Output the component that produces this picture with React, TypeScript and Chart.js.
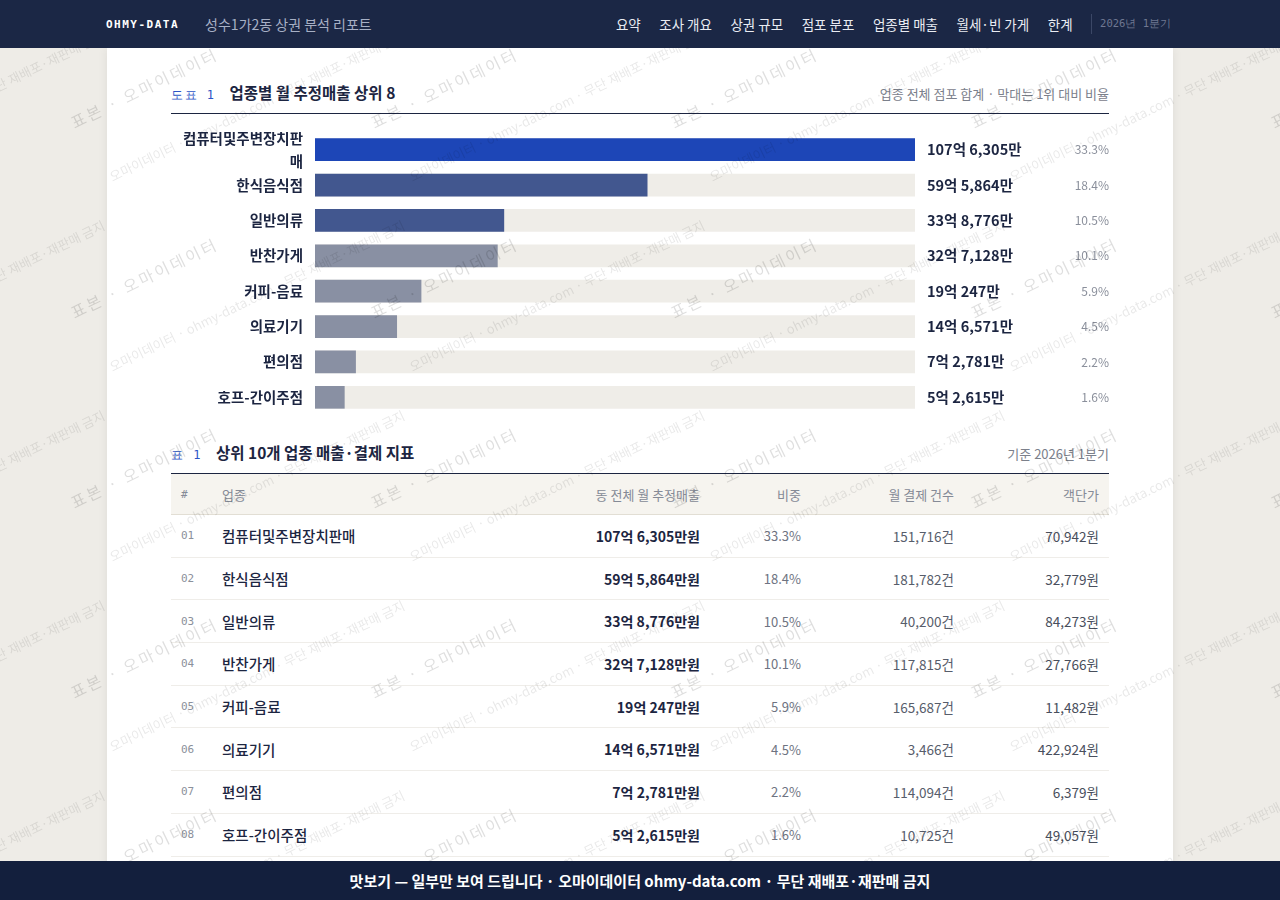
import { useEffect, useRef } from "react"
import { Chart, registerables } from "chart.js"

Chart.register(...registerables)

// 업종별 월 추정매출 (단위: 만원)
const categories = ["컴퓨터및주변장치판매", "한식음식점", "일반의류", "반찬가게", "커피-음료", "의료기기", "편의점", "호프-간이주점"]
const salesManwon = [1076305, 595864, 338776, 327128, 190247, 146571, 72781, 52615]
const sharePct = [33.3, 18.4, 10.5, 10.1, 5.9, 4.5, 2.2, 1.6]
const monthlyTx = [151716, 181782, 40200, 117815, 165687, 3466, 114094, 10725]
const avgTicket = [70942, 32779, 84273, 27766, 11482, 422924, 6379, 49057]

const navItems = ["요약", "조사 개요", "상권 규모", "점포 분포", "업종별 매출", "월세·빈 가게", "한계"]

const FONT = '"Noto Sans CJK KR", "Noto Sans", sans-serif'
const MONO = '"DejaVu Sans Mono", "Liberation Mono", monospace'
const INK = "#1c2541"

function formatEok(v: number) {
  const eok = Math.floor(v / 10000)
  const man = v % 10000
  return `${eok}억 ${man.toLocaleString("en-US")}만`
}

function barColor(i: number) {
  if (i === 0) return "#1d46b7"
  if (i < 3) return "#42578f"
  return "#8990a3"
}

function SalesChart() {
  const chartRef = useRef<HTMLCanvasElement | null>(null)
  const chartInstance = useRef<Chart | null>(null)

  useEffect(() => {
    if (!chartRef.current) return
    if (chartInstance.current) chartInstance.current.destroy()

    const maxSales = Math.max(...salesManwon)

    // value + share labels to the right of the track
    const valueLabels = {
      id: "valueLabels",
      afterDatasetsDraw(chart: any) {
        const { ctx, chartArea } = chart
        const meta = chart.getDatasetMeta(0)
        ctx.save()
        ctx.textBaseline = "middle"
        meta.data.forEach((bar: any, i: number) => {
          ctx.fillStyle = INK
          ctx.textAlign = "left"
          ctx.font = `700 14.5px ${FONT}`
          ctx.fillText(formatEok(salesManwon[i]), chartArea.right + 12, bar.y)
          ctx.fillStyle = "#8a8f9b"
          ctx.textAlign = "right"
          ctx.font = `12px ${FONT}`
          ctx.fillText(`${sharePct[i].toFixed(1)}%`, chart.width, bar.y)
        })
        ctx.restore()
      },
    }

    chartInstance.current = new Chart(chartRef.current, {
      type: "bar",
      data: {
        labels: categories,
        datasets: [
          {
            data: salesManwon,
            backgroundColor: categories.map((_, i) => barColor(i)),
            barThickness: 22,
            grouped: false,
            order: 1,
          },
          {
            data: categories.map(() => maxSales),
            backgroundColor: "#efede8",
            barThickness: 22,
            grouped: false,
            order: 2,
          },
        ],
      },
      options: {
        indexAxis: "y",
        animation: false,
        responsive: true,
        maintainAspectRatio: false,
        layout: { padding: { left: 0, right: 194, top: 0, bottom: 0 } },
        plugins: {
          legend: { display: false },
          tooltip: { enabled: false },
        },
        scales: {
          x: { display: false, min: 0, max: maxSales },
          y: {
            grid: { display: false, drawTicks: false },
            border: { display: false },
            afterFit: (scale: any) => {
              scale.width = 144
              scale.paddingTop = 0
              scale.paddingBottom = 0
            },
            ticks: {
              autoSkip: false,
              padding: 12,
              color: INK,
              font: { family: FONT, size: 14.5, weight: 600, lineHeight: 1.6 },
              callback: (_v: any, i: number) => {
                const name = categories[i]
                return name.length > 9 ? [name.slice(0, 9), name.slice(9)] : name
              },
            },
          },
        },
      },
      plugins: [valueLabels],
    } as any)

    return () => {
      if (chartInstance.current) {
        chartInstance.current.destroy()
        chartInstance.current = null
      }
    }
  }, [])

  return (
    <div style={{ position: "relative", height: 283, marginTop: 18 }}>
      <canvas ref={chartRef} />
    </div>
  )
}

function SectionHead({ tag, title, note, gap }: { tag: string; title: string; note: string; gap: number }) {
  return (
    <div
      style={{
        display: "flex",
        alignItems: "baseline",
        height: 20,
        lineHeight: "20px",
        paddingBottom: 11,
        borderBottom: `1px solid ${INK}`,
      }}
    >
      <span style={{ fontFamily: MONO, fontSize: 12, color: "#2b54c6", letterSpacing: 1.5, marginRight: gap }}>{tag}</span>
      <span style={{ fontSize: 15.5, fontWeight: 700, color: INK }}>{title}</span>
      <span style={{ marginLeft: "auto", fontSize: 13, color: "#7b808b" }}>{note}</span>
    </div>
  )
}

function Watermarks() {
  const marks: any[] = []
  for (let j = -1; j < 6; j++) {
    for (let i = -1; i < 5; i++) {
      const x = 75 + 300 * i
      const y = 130 + 190 * j
      marks.push(
        <span
          key={`a${i}_${j}`}
          style={{
            position: "absolute",
            left: x,
            top: y - 16,
            fontSize: 16,
            letterSpacing: 2.5,
            color: "rgba(0,0,0,0.13)",
            transform: "rotate(-26deg)",
            transformOrigin: "0 100%",
            whiteSpace: "nowrap",
            lineHeight: 1,
          }}
        >
          표본 · 오마이데이터
        </span>
      )
      marks.push(
        <span
          key={`b${i}_${j}`}
          style={{
            position: "absolute",
            left: x + 38,
            top: y + 53 - 13,
            fontSize: 13,
            color: "rgba(0,0,0,0.09)",
            transform: "rotate(-26deg)",
            transformOrigin: "0 100%",
            whiteSpace: "nowrap",
            lineHeight: 1,
          }}
        >
          오마이데이터 · ohmy-data.com · 무단 재배포·재판매 금지
        </span>
      )
    }
  }
  return (
    <div style={{ position: "fixed", inset: 0, overflow: "hidden", pointerEvents: "none", zIndex: 5, fontFamily: FONT }}>
      {marks}
    </div>
  )
}

const th = (align: "left" | "right"): any => ({
  textAlign: align,
  fontWeight: 400,
  fontSize: 13,
  color: "#858a96",
  padding: "0 10px",
  height: 40,
})

export default function App() {
  return (
    <div style={{ fontFamily: FONT, color: INK }}>
      <style>{`body{margin:0;background:#eeece7;}`}</style>

      <div style={{ position: "fixed", top: 0, left: 0, right: 0, height: 48, background: "#1b2745", zIndex: 10 }}>
        <div style={{ width: 1066, margin: "0 auto", height: 48, display: "flex", alignItems: "center" }}>
          <span style={{ fontFamily: MONO, fontWeight: 700, fontSize: 11, letterSpacing: 1.5, color: "#fff", marginLeft: -1 }}>OHMY-DATA</span>
          <span style={{ fontSize: 14, color: "#a7b0c5", marginLeft: 26 }}>성수1가2동 상권 분석 리포트</span>
          <div style={{ marginLeft: "auto", display: "flex", alignItems: "center" }}>
            {navItems.map((n) => (
              <span key={n} style={{ fontSize: 13.5, color: "#e9ecf3", marginRight: 18.5, whiteSpace: "nowrap" }}>
                {n}
              </span>
            ))}
            <span style={{ width: 1, height: 20, background: "#3b4766", marginRight: 8 }} />
            <span style={{ fontFamily: MONO, fontSize: 10.5, color: "#6f7892", whiteSpace: "nowrap", marginRight: 2 }}>2026년 1분기</span>
          </div>
        </div>
      </div>

      <div style={{ paddingTop: 48 }}>
        <div
          style={{
            width: 1066,
            margin: "0 auto",
            background: "#fff",
            boxShadow: "0 0 10px rgba(0,0,0,0.07)",
            boxSizing: "border-box",
            padding: "34px 64px 60px",
            minHeight: 900,
          }}
        >
          <SectionHead tag="도표 1" title="업종별 월 추정매출 상위 8" note="업종 전체 점포 합계 · 막대는 1위 대비 비율" gap={14} />
          <SalesChart />

          <div style={{ marginTop: 27 }}>
            <SectionHead tag="표 1" title="상위 10개 업종 매출·결제 지표" note="기준 2026년 1분기" gap={14} />
            <table style={{ width: 938, borderCollapse: "collapse", tableLayout: "fixed" }}>
              <colgroup>
                <col style={{ width: 41 }} />
                <col style={{ width: 250 }} />
                <col style={{ width: 248 }} />
                <col style={{ width: 101 }} />
                <col style={{ width: 153 }} />
                <col style={{ width: 145 }} />
              </colgroup>
              <thead>
                <tr style={{ background: "#f6f4ef", borderBottom: "1px solid #e2ded4" }}>
                  <th style={{ ...th("left"), fontFamily: MONO, fontSize: 11 }}>#</th>
                  <th style={th("left")}>업종</th>
                  <th style={th("right")}>동 전체 월 추정매출</th>
                  <th style={th("right")}>비중</th>
                  <th style={th("right")}>월 결제 건수</th>
                  <th style={th("right")}>객단가</th>
                </tr>
              </thead>
              <tbody>
                {categories.map((name, i) => (
                  <tr key={name} style={{ borderBottom: "1px solid #efede9" }}>
                    <td style={{ padding: "0 10px", height: 41.7, fontFamily: MONO, fontSize: 11, color: "#8b909b" }}>
                      {String(i + 1).padStart(2, "0")}
                    </td>
                    <td style={{ padding: "0 10px", fontSize: 14.5, fontWeight: 500, color: INK }}>{name}</td>
                    <td style={{ padding: "0 10px", textAlign: "right", fontSize: 14, fontWeight: 700, color: INK }}>
                      {formatEok(salesManwon[i])}원
                    </td>
                    <td style={{ padding: "0 10px", textAlign: "right", fontSize: 13, color: "#6e7381" }}>{sharePct[i].toFixed(1)}%</td>
                    <td style={{ padding: "0 10px", textAlign: "right", fontSize: 13.5, color: "#575d6b" }}>
                      {monthlyTx[i].toLocaleString("en-US")}건
                    </td>
                    <td style={{ padding: "0 10px", textAlign: "right", fontSize: 13.5, color: "#484e5c" }}>
                      {avgTicket[i].toLocaleString("en-US")}원
                    </td>
                  </tr>
                ))}
              </tbody>
            </table>
          </div>
        </div>
      </div>

      <Watermarks />

      <div
        style={{
          position: "fixed",
          left: 0,
          right: 0,
          bottom: 0,
          height: 39,
          background: "#131f3d",
          color: "#fff",
          zIndex: 10,
          display: "flex",
          alignItems: "center",
          justifyContent: "center",
          fontSize: 15,
          fontWeight: 700,
        }}
      >
        맛보기 — 일부만 보여 드립니다 · 오마이데이터 ohmy-data.com · 무단 재배포·재판매 금지
      </div>
    </div>
  )
}
